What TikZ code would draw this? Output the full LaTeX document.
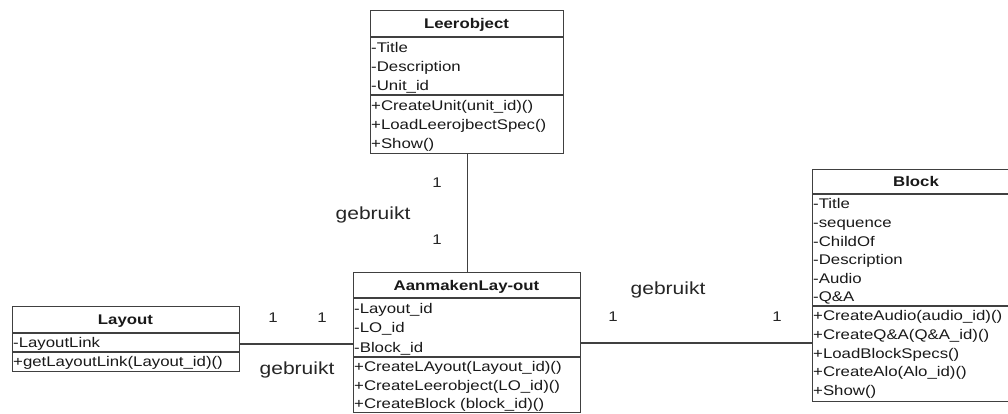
\documentclass[tikz,border=0pt]{standalone}
\usepackage{fontspec}
\setmainfont{Liberation Sans}[FakeStretch=1.2]
\usetikzlibrary{calc}

\tikzset{
  classbox/.style={draw=black!75, line width=1.4pt, fill=white, rectangle,
                   inner sep=0pt, anchor=north west},
  sepline/.style={draw=black!75, line width=1.4pt},
  classtitle/.style={font=\fontsize{14}{16}\selectfont\bfseries, text=black!90,
                     inner sep=0pt, anchor=base},
  member/.style={font=\fontsize{14}{16}\selectfont, text=black!90,
                 inner sep=0pt, anchor=base west},
  assoc/.style={draw=black!75, line width=1.2pt},
  mult/.style={font=\fontsize{14}{16}\selectfont, text=black!85, inner sep=0pt},
  rolelabel/.style={font=\fontsize{17.5}{20}\selectfont, text=black!85, inner sep=0pt},
}

% class box: name, left, right, top, first separator, second separator, bottom, title
\newcommand\umlclass[8]{%
  \node[classbox, minimum width={#3-#2}, minimum height={#7-#4}] (#1) at (#2,#4) {};
  \draw[sepline] (#1.west |- 0,#5) -- (#1.east |- 0,#5);
  \draw[sepline] (#1.west |- 0,#6) -- (#1.east |- 0,#6);
  \node[classtitle] (#1-title) at ({(#2+#3)/2}, {(#4+#5)/2+5}) {#8};
}
% compartment rows: prefix, left, compartment top, row pitch, list of rows
\newcommand\umlrows[5]{%
  \foreach \t [count=\i] in {#5}
    \node[member] (#1-\i) at (#2, {#3 + #4*(\i-0.5) + 5}) {\t};
}

\begin{document}
\begin{tikzpicture}[x=1pt, y=-1pt]
\useasboundingbox[fill=white] (0,0) rectangle (1008,414);

% Leerobject
\umlclass{leer}{370}{563}{10}{37}{95}{153}{Leerobject}
\umlrows{leer-a}{371}{37.5}{19.2}{{-Title},{-Description},{-Unit\_id}}
\umlrows{leer-m}{371}{95.5}{19.2}{{+CreateUnit(unit\_id)()},{+LoadLeerojbectSpec()},{+Show()}}

% AanmakenLay-out
\umlclass{aan}{353}{580}{272}{298}{357}{412}{AanmakenLay-out}
\umlrows{aan-a}{354}{298.5}{19.4}{{-Layout\_id},{-LO\_id},{-Block\_id}}
\umlrows{aan-m}{354}{357.5}{18.4}{{+CreateLAyout(Layout\_id)()},{+CreateLeerobject(LO\_id)()},{+CreateBlock (block\_id)()}}

% Layout
\umlclass{lay}{12}{239}{306}{333}{352}{371}{Layout}
\umlrows{lay-a}{13}{333.5}{18.5}{{-LayoutLink}}
\umlrows{lay-m}{13}{352.5}{18.5}{{+getLayoutLink(Layout\_id)()}}

% Block
\umlclass{block}{812}{1020}{169}{194}{306}{401}{Block}
\umlrows{block-a}{813}{194.5}{18.6}{{-Title},{-sequence},{-ChildOf},{-Description},{-Audio},{-Q\&A}}
\umlrows{block-m}{813}{306.5}{18.6}{{+CreateAudio(audio\_id)()},{+CreateQ\&A(Q\&A\_id)()},{+LoadBlockSpecs()},{+CreateAlo(Alo\_id)()},{+Show()}}

% associations
\draw[assoc] (leer.south) -- (aan.north);
\draw[assoc] (lay.east |- 0,344) -- (aan.west |- 0,344);
\draw[assoc] (aan.east |- 0,343) -- (block.west |- 0,343);

% multiplicities and role names
\node[mult] (m-leer) at (437,183) {1};
\node[mult] (m-aan-top) at (437,240) {1};
\node[rolelabel] (r-top) at (373,215) {gebruikt};

\node[mult] (m-lay) at (273,318) {1};
\node[mult] (m-aan-left) at (322,318) {1};
\node[rolelabel] (r-left) at (297,370) {gebruikt};

\node[mult] (m-aan-right) at (613,317) {1};
\node[mult] (m-block) at (777,317) {1};
\node[rolelabel] (r-right) at (668,290) {gebruikt};
\end{tikzpicture}
\end{document}
